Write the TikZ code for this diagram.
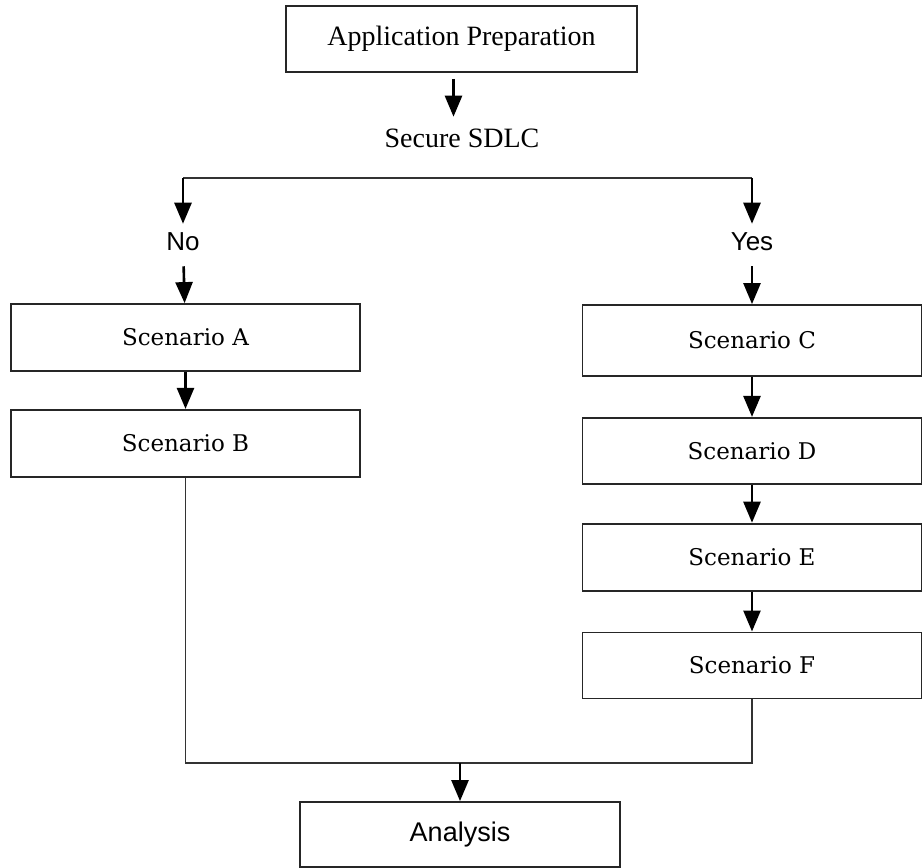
\documentclass[tikz,border=0pt]{standalone}
\usepackage{fontspec}
\setmainfont{Liberation Serif}
\newfontfamily\labelfont{Liberation Sans}
\newfontfamily\scenariofont{DejaVu Serif}
\usetikzlibrary{positioning, arrows.meta}

\begin{document}
\begin{tikzpicture}[x=1pt, y=-1pt,
  stage box/.style={rectangle, draw=black!85, line width=1.8pt, inner sep=0pt},
  main box/.style={stage box, minimum width=351pt, minimum height=66pt, font=\fontsize{28}{32}\selectfont},
  scen box/.style={stage box, minimum width=349pt, minimum height=67pt, font=\scenariofont\fontsize{23}{27}\selectfont},
  end box/.style={stage box, minimum width=320pt, minimum height=65pt, font=\labelfont\fontsize{27}{31}\selectfont},
  choice/.style={inner sep=0pt, font=\labelfont\fontsize{26}{30}\selectfont},
  flow/.style={line width=2.6pt, -{Triangle[length=21pt, width=17pt]}},
  link line/.style={line width=1.6pt, draw=black!80}]

\useasboundingbox (0,0) rectangle (922,868);

\node[main box] (prep) at (461.5,39) {Application Preparation};
\node[inner sep=0pt, font=\fontsize{28}{32}\selectfont] (sdlc) at (462,138) {Secure SDLC};

\coordinate (forkL) at (183,178);
\coordinate (forkR) at (752,178);
\node[choice] (no) at (183,242) {No};
\node[choice] (yes) at (752,242) {Yes};

% left branch
\node[scen box] (scA) at (185.5,337.5) {Scenario A};
\node[scen box] (scB) [below=37pt of scA] {Scenario B};

% right branch
\node[scen box, minimum width=339pt, minimum height=71pt] (scC) at (752,340.5) {Scenario C};
\node[scen box, minimum width=339pt, minimum height=66pt] (scD) [below=40pt of scC] {Scenario D};
\node[scen box, minimum width=339pt] (scE) [below=38pt of scD] {Scenario E};
\node[scen box, minimum width=339pt, minimum height=66pt] (scF) [below=40pt of scE] {Scenario F};

\coordinate (merge) at (460,763);
\node[end box] (ana) at (460,834.5) {Analysis};

\draw[flow, shorten <=6pt, shorten >=11.7pt] ([xshift=-8pt]prep.south) -- ([xshift=-8pt]prep.south |- sdlc.north);
\draw[link line] (forkL) -- (forkR);
\draw[flow, shorten >=9pt] (forkL) -- (no);
\draw[flow, shorten >=9pt] (forkR) -- (yes);
\draw[flow, shorten <=15pt] (no) -- (scA);
\draw[flow, shorten <=15pt] (yes) -- (scC);
\draw[flow] (scA) -- (scB);
\draw[flow] (scC) -- (scD);
\draw[flow] (scD) -- (scE);
\draw[flow] (scE) -- (scF);
\draw[link line] (scB.south) |- (merge) -| (scF.south);
\draw[flow] (merge) -- (ana);

\end{tikzpicture}
\end{document}
